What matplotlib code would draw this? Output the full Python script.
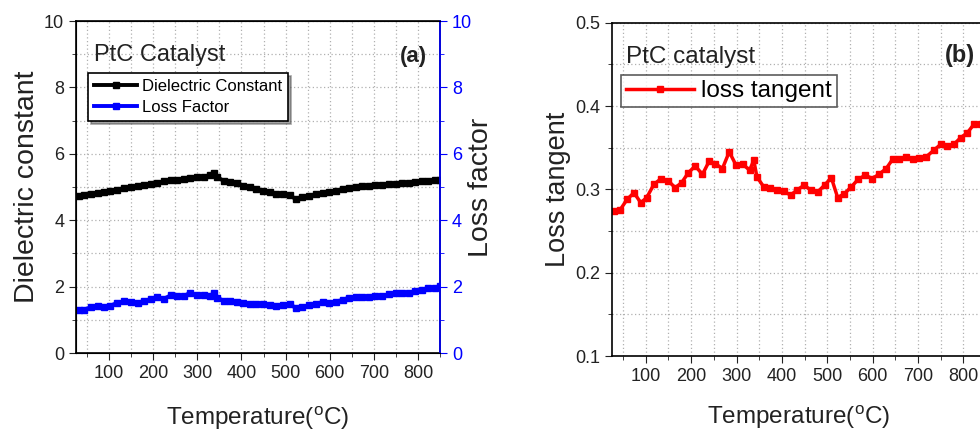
import matplotlib
matplotlib.use("Agg")
from matplotlib import pyplot as plt
from matplotlib.ticker import MultipleLocator

# temperature points (deg C)
temp = [31, 43, 59, 74, 89, 102, 118, 134, 150, 165, 179, 194, 209, 225, 240, 253,
        269, 284, 299, 314, 329, 338, 345, 360, 374, 389, 404, 419, 433, 449, 464,
        479, 494, 509, 523, 538, 553, 568, 584, 599, 614, 630, 644, 659, 674, 689,
        703, 718, 735, 750, 764, 779, 794, 809, 823, 838, 850]

diel_const = [4.73, 4.76, 4.80, 4.83, 4.85, 4.89, 4.92, 4.97, 5.00, 5.02, 5.05, 5.10,
              5.13, 5.17, 5.20, 5.22, 5.25, 5.28, 5.30, 5.31, 5.35, 5.41, 5.30, 5.18,
              5.16, 5.13, 5.04, 5.00, 4.95, 4.88, 4.84, 4.80, 4.79, 4.75, 4.64, 4.70,
              4.74, 4.78, 4.82, 4.85, 4.88, 4.93, 4.97, 5.00, 5.02, 5.04, 5.06, 5.07,
              5.09, 5.10, 5.12, 5.13, 5.15, 5.17, 5.19, 5.21, 5.22]

loss_factor = [1.30, 1.31, 1.38, 1.43, 1.38, 1.42, 1.51, 1.56, 1.55, 1.52, 1.56, 1.63,
               1.68, 1.64, 1.74, 1.73, 1.71, 1.82, 1.74, 1.75, 1.73, 1.81, 1.67, 1.57,
               1.56, 1.53, 1.50, 1.47, 1.48, 1.49, 1.45, 1.43, 1.46, 1.49, 1.35, 1.39,
               1.44, 1.49, 1.53, 1.52, 1.55, 1.60, 1.67, 1.69, 1.70, 1.69, 1.71, 1.72,
               1.77, 1.81, 1.80, 1.82, 1.86, 1.90, 1.96, 1.97, 2.01]

loss_tan = [0.274, 0.275, 0.288, 0.296, 0.284, 0.290, 0.306, 0.313, 0.310, 0.302, 0.308,
            0.320, 0.328, 0.318, 0.334, 0.331, 0.325, 0.345, 0.329, 0.330, 0.323, 0.335,
            0.315, 0.303, 0.302, 0.299, 0.298, 0.293, 0.299, 0.305, 0.299, 0.297, 0.305,
            0.314, 0.290, 0.295, 0.303, 0.312, 0.317, 0.313, 0.318, 0.325, 0.336, 0.337,
            0.339, 0.336, 0.338, 0.339, 0.347, 0.354, 0.352, 0.354, 0.362, 0.368, 0.378,
            0.379, 0.385]

plt.rcParams['font.family'] = ['Liberation Sans', 'DejaVu Sans']
plt.rcParams['mathtext.fontset'] = 'custom'
plt.rcParams['mathtext.rm'] = 'Liberation Sans'
xlabel = r'Temperature($^{\mathrm{o}}$C)'
TXT = '#222222'

fig = plt.figure(figsize=(9.8, 4.34), dpi=100)


def style_axis(ax):
    ax.xaxis.set_major_locator(MultipleLocator(100))
    ax.xaxis.set_minor_locator(MultipleLocator(50))
    ax.grid(True, which='both', color='#b0b0b0', linestyle=(0, (1, 2)), linewidth=0.9)
    ax.tick_params(which='both', direction='out', top=False, right=False, labelsize=13,
                   colors=TXT)
    ax.tick_params(which='major', length=5)
    ax.tick_params(which='minor', length=3)
    for s in ax.spines.values():
        s.set_linewidth(1.2)
    ax.set_axisbelow(True)


# ---- panel (a)
ax1 = fig.add_axes([0.0776, 0.1866, 0.3714, 0.765])
l1, = ax1.plot(temp, diel_const, color='black', marker='s', markersize=4.5, linewidth=2.8,
               label='Dielectric Constant')
ax1.set_xlim(25, 850)
ax1.set_ylim(0, 10)
ax1.yaxis.set_major_locator(MultipleLocator(2))
ax1.yaxis.set_minor_locator(MultipleLocator(1))
style_axis(ax1)
ax1.set_xlabel(xlabel, fontsize=17.5, labelpad=16, color=TXT)
ax1.set_ylabel('Dielectric constant', fontsize=20.5, labelpad=3, color=TXT)

ax2 = ax1.twinx()
l2, = ax2.plot(temp, loss_factor, color='blue', marker='s', markersize=4.5, linewidth=2.8,
               label='Loss Factor')
ax2.set_ylim(0, 10)
ax2.yaxis.set_major_locator(MultipleLocator(2))
ax2.yaxis.set_minor_locator(MultipleLocator(1))
ax2.tick_params(axis='y', which='both', direction='out', colors='blue', labelsize=13)
ax2.tick_params(axis='y', which='major', length=5)
ax2.tick_params(axis='y', which='minor', length=3)
ax2.spines['right'].set_color('blue')
ax2.spines['right'].set_linewidth(1.2)
ax2.set_ylabel('Loss factor', fontsize=20.5, color=TXT, labelpad=-3)

ax1.text(0.05, 0.88, 'PtC Catalyst', transform=ax1.transAxes, fontsize=17, color=TXT)
ax1.text(0.963, 0.877, '(a)', transform=ax1.transAxes, fontsize=16, fontweight='bold',
         ha='right', color=TXT)
leg = ax2.legend(handles=[l1, l2], loc='upper left', bbox_to_anchor=(0.033, 0.842),
                 fontsize=12, frameon=True, fancybox=False, shadow=True,
                 borderpad=0.35, handlelength=2.6, handletextpad=0.3, labelspacing=0.35,
                 borderaxespad=0)
leg.get_frame().set_edgecolor('black')
leg.get_frame().set_linewidth(1.2)

# ---- panel (b)
ax3 = fig.add_axes([0.6242, 0.1797, 0.382, 0.768])
l3, = ax3.plot(temp, loss_tan, color='red', marker='s', markersize=4.5, linewidth=2.5,
               label='loss tangent')
ax3.set_xlim(25, 850)
ax3.set_ylim(0.1, 0.5)
ax3.yaxis.set_major_locator(MultipleLocator(0.1))
ax3.yaxis.set_minor_locator(MultipleLocator(0.05))
style_axis(ax3)
ax3.set_xlabel(xlabel, fontsize=17.5, labelpad=13, color=TXT)
ax3.set_ylabel('Loss tangent', fontsize=19.5, labelpad=3, color=TXT)
ax3.text(0.038, 0.88, 'PtC catalyst', transform=ax3.transAxes, fontsize=17.5, color=TXT)
ax3.text(0.971, 0.882, '(b)', transform=ax3.transAxes, fontsize=17, fontweight='bold',
         ha='right', color=TXT)
leg3 = ax3.legend(handles=[l3], loc='upper left', bbox_to_anchor=(0.024, 0.842),
                  fontsize=17.5, frameon=True, fancybox=False, borderpad=0.2,
                  handlelength=2.8, handletextpad=0.3, borderaxespad=0)
leg3.get_frame().set_edgecolor('#333333')
leg3.get_frame().set_linewidth(1.2)

fig.savefig('out.png', dpi=100)
